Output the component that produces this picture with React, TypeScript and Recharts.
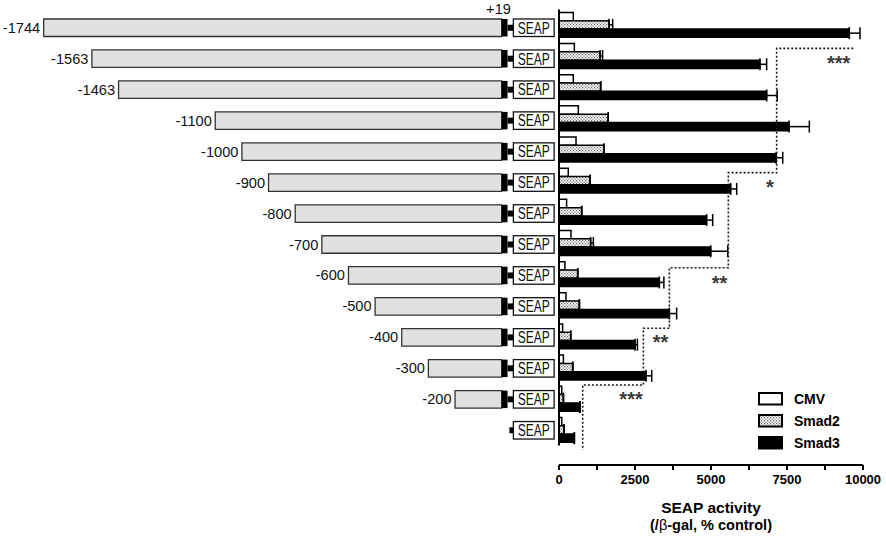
import React from 'react';
import {
  BarChart,
  ComposedChart,
  Bar,
  Line,
  XAxis,
  YAxis,
  ErrorBar,
  ReferenceLine,
  ReferenceDot,
  LabelList,
  Legend
} from 'recharts';

const FONT = '"Liberation Sans", Arial, Helvetica, sans-serif';
const NARROW = '"Liberation Sans Narrow", "Liberation Sans", Arial, sans-serif';

// 5' end of each promoter construct (bp upstream), 0 = basal SEAP vector
const constructStart = [1744, 1563, 1463, 1100, 1000, 900, 800, 700, 600, 500, 400, 300, 200, 0];
const constructLabels = ['-1744', '-1563', '-1463', '-1100', '-1000', '-900', '-800', '-700', '-600', '-500', '-400', '-300', '-200', ''];
const startSiteLabel = '+19';

// SEAP activity (/β-gal, % control)
const seriesNames = ['CMV', 'Smad2', 'Smad3'];
const cmv = [470, 505, 470, 635, 560, 305, 250, 395, 195, 230, 120, 145, 90, 90];
const smad2 = [1645, 1350, 1370, 1620, 1480, 1020, 745, 1040, 615, 670, 385, 450, 145, 165];
const smad2Err = [120, 85, 0, 0, 0, 0, 0, 90, 0, 0, 0, 0, 0, 0];
const smad3 = [9550, 6610, 6830, 7565, 7140, 5645, 4855, 4990, 3300, 3630, 2500, 2860, 690, 505];
const smad3Err = [350, 220, 350, 670, 220, 200, 200, 560, 150, 240, 80, 190, 0, 0];

// dotted significance line (activity level, row position) and stars
const stepX = [9680, 7160, 5570, 3630, 2775, 780];
const stepRow = [0.75, 4.74, 7.79, 9.735, 11.555, 13.64];
const starText = ['***', '*', '**', '**', '***'];
const starX = [9200, 6940, 5280, 3340, 2370];
const starRow = [1.08, 5.07, 8.15, 10.05, 11.88];

const xTicks = [0, 1250, 2500, 3750, 5000, 6250, 7500, 8750, 10000];

// construct drawing, in bp
const OFFSET = 1908;
const BOX_START = -25;
const STUB_START = -3;
const BASAL_STUB_START = 4;
const SITE = 19;
const SEAP_END = 172;

const ROW_DOMAIN = [-0.5, 14.123];

const constructData = constructStart.map((s, i) => {
  const left = s ? -s : BASAL_STUB_START;
  return {
    name: constructLabels[i] || 'basal',
    label: constructLabels[i],
    tag: i === 0 ? startSiteLabel : '',
    spacer: left + OFFSET,
    gray: s ? BOX_START + s : 0,
    box: s ? STUB_START - BOX_START : 0,
    stub: SITE - (s ? STUB_START : BASAL_STUB_START),
    seap: SEAP_END - SITE
  };
});

const activityData = cmv.map((v, i) => ({
  row: i,
  cmv: v,
  smad2: smad2[i],
  smad2Err: [0, smad2Err[i]],
  smad3: smad3[i],
  smad3Err: [0, smad3Err[i]]
}));

const stepData = stepX.map((x, i) => ({ row: stepRow[i], step: x }));

const legendFills = ['#fff', 'url(#stipple)', '#000'];

const renderConstructLabel = (p: any) =>
  p.value ? (
    <text x={p.x - 3.5} y={p.y + p.height / 2 + 5} textAnchor="end" fontSize={14.6} fontFamily={FONT} fill="#111">
      {p.value}
    </text>
  ) : null;

const renderSiteLabel = (p: any) =>
  p.value ? (
    <text x={p.x + p.width - 2.5} y={p.y - 4.75} textAnchor="end" fontSize={14.6} fontFamily={FONT} fill="#111">
      {p.value}
    </text>
  ) : null;

const renderStub = (p: any) =>
  p.width > 0 ? <rect x={p.x} y={p.y + p.height / 2 - 3} width={p.width} height={6} fill="#000" /> : null;

const renderSeap = (p: any) => (
  <g>
    <rect x={p.x} y={p.y} width={p.width} height={p.height} fill="#fff" stroke="#111" strokeWidth={1.3} />
    <text
      x={p.x + p.width / 2}
      y={p.y + p.height / 2 + 5.8}
      textAnchor="middle"
      fontSize={16}
      fontFamily={NARROW}
      fill="#111"
      textLength={32}
      lengthAdjust="spacingAndGlyphs"
    >
      SEAP
    </text>
  </g>
);

const renderAxisTitle = (props: any) => {
  const vb = props.viewBox;
  const cx = vb.x + vb.width / 2;
  return (
    <g fontFamily={FONT} fontWeight="bold" fill="#000" textAnchor="middle">
      <text x={cx} y={vb.y + 48} fontSize={15.5}>SEAP activity</text>
      <text x={cx} y={vb.y + 65} fontSize={14.5}>
        (/<tspan fontWeight="normal">β</tspan>-gal, % control)
      </text>
    </g>
  );
};

const renderLegend = () => (
  <div style={{ fontFamily: FONT, fontWeight: 'bold', fontSize: 14, color: '#000' }}>
    {seriesNames.map((n, i) => (
      <div key={n} style={{ display: 'flex', alignItems: 'center', height: 21.7 }}>
        <svg width={26} height={14}>
          <rect x={1} y={1} width={23} height={11.5} fill={legendFills[i]} stroke="#000" strokeWidth={2} />
        </svg>
        <span style={{ marginLeft: 9.7, lineHeight: '14px' }}>{n}</span>
      </div>
    ))}
  </div>
);

const renderStar = (text: string) => (p: any) => (
  <text x={p.cx} y={p.cy + 11} textAnchor="middle" fontSize={20} fontWeight="bold" fontFamily={FONT} fill="#3a3a3a">
    {text}
  </text>
);

export default function App() {
  return (
    <div style={{ position: 'absolute', left: 0, top: 0, width: 886, height: 538, background: '#fff', overflow: 'hidden' }}>
      {/* promoter constructs */}
      <div style={{ position: 'absolute', left: 0, top: 0 }}>
        <BarChart
          layout="vertical"
          width={560}
          height={455}
          data={constructData}
          margin={{ top: 12, right: 0, bottom: 9.5, left: 0 }}
          barSize={17.5}
        >
          <XAxis type="number" domain={[0, 2102]} hide />
          <YAxis type="category" dataKey="name" hide />
          <Bar dataKey="spacer" stackId="c" fill="none" isAnimationActive={false} />
          <Bar dataKey="gray" stackId="c" fill="#e1e1e1" stroke="#333" strokeWidth={1.3} isAnimationActive={false}>
            <LabelList dataKey="label" content={renderConstructLabel} />
          </Bar>
          <Bar dataKey="box" stackId="c" fill="#000" isAnimationActive={false} />
          <Bar dataKey="stub" stackId="c" shape={renderStub} isAnimationActive={false}>
            <LabelList dataKey="tag" content={renderSiteLabel} />
          </Bar>
          <Bar dataKey="seap" stackId="c" shape={renderSeap} isAnimationActive={false} />
        </BarChart>
      </div>

      {/* SEAP activity */}
      <div style={{ position: 'absolute', left: 540, top: 0 }}>
        <ComposedChart
          layout="vertical"
          width={346}
          height={538}
          data={activityData}
          margin={{ top: 9.4, right: 23, bottom: 0, left: 19 }}
          barGap={0}
        >
          <defs>
            <pattern id="stipple" width="3" height="3" patternUnits="userSpaceOnUse">
              <rect width="3" height="3" fill="#fff" />
              <rect x="0" y="0" width="1.2" height="1.2" fill="#666" />
              <rect x="1.5" y="1.5" width="1.2" height="1.2" fill="#666" />
            </pattern>
          </defs>
          <XAxis
            type="number"
            domain={[0, 10000]}
            ticks={xTicks}
            interval={0}
            tickFormatter={(v: number) => (v % 2500 === 0 ? String(v) : '')}
            tick={{ fill: '#000', fontSize: 13, fontWeight: 'bold', fontFamily: FONT }}
            tickSize={5}
            tickMargin={5}
            axisLine={{ stroke: '#000', strokeWidth: 2 }}
            tickLine={{ stroke: '#000', strokeWidth: 2 }}
            height={73}
            label={renderAxisTitle}
          />
          <YAxis yAxisId="rows" type="number" dataKey="row" domain={ROW_DOMAIN} hide allowDataOverflow />
          <YAxis yAxisId="marks" type="number" dataKey="row" domain={ROW_DOMAIN} hide allowDataOverflow />
          <Bar yAxisId="rows" dataKey="cmv" name={seriesNames[0]} barSize={8.3} fill="#fff" stroke="#000" strokeWidth={1.5} isAnimationActive={false} />
          <Bar yAxisId="rows" dataKey="smad2" name={seriesNames[1]} barSize={8.3} fill="url(#stipple)" stroke="#000" strokeWidth={1.5} isAnimationActive={false}>
            <ErrorBar dataKey="smad2Err" direction="x" width={6} stroke="#000" strokeWidth={1.5} />
          </Bar>
          <Bar yAxisId="rows" dataKey="smad3" name={seriesNames[2]} barSize={8.3} fill="#000" stroke="#000" strokeWidth={1.5} isAnimationActive={false}>
            <ErrorBar dataKey="smad3Err" direction="x" width={6} stroke="#000" strokeWidth={1.5} />
          </Bar>
          <Line
            yAxisId="marks"
            data={stepData}
            dataKey="step"
            type="stepAfter"
            stroke="#1a1a1a"
            strokeWidth={1.6}
            strokeDasharray="2 2"
            dot={false}
            isAnimationActive={false}
          />
          <ReferenceLine yAxisId="marks" segment={[{ x: 0, y: -0.5 }, { x: 0, y: 13.5 }]} stroke="#000" strokeWidth={2} />
          {starText.map((t, i) => (
            <ReferenceDot key={i} yAxisId="marks" x={starX[i]} y={starRow[i]} r={0} shape={renderStar(t)} />
          ))}
          <Legend
            layout="vertical"
            align="center"
            verticalAlign="middle"
            wrapperStyle={{ left: 218.3, top: 388.6, width: 'auto' }}
            content={renderLegend}
          />
        </ComposedChart>
      </div>
    </div>
  );
}
